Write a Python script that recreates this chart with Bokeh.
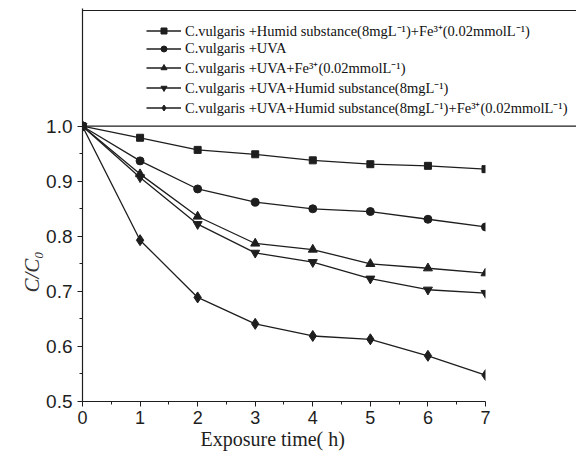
import math
from bokeh.plotting import figure
from bokeh.models import Range1d, FixedTicker, Span, Legend, LegendItem, NumeralTickFormatter, Title
from bokeh.embed import file_html
from bokeh.resources import INLINE

# ---- data ----
time_h = [0, 1, 2, 3, 4, 5, 6, 7]
humid_fe = [1.0, 0.979, 0.957, 0.949, 0.938, 0.931, 0.928, 0.922]
uva = [1.0, 0.937, 0.886, 0.862, 0.850, 0.845, 0.831, 0.817]
uva_fe = [1.0, 0.913, 0.836, 0.787, 0.776, 0.750, 0.742, 0.733]
uva_humid = [1.0, 0.907, 0.822, 0.770, 0.753, 0.723, 0.703, 0.697]
uva_humid_fe = [1.0, 0.793, 0.689, 0.641, 0.619, 0.613, 0.583, 0.548]

x_ticks = [0, 1, 2, 3, 4, 5, 6, 7]
y_ticks = [0.5, 0.6, 0.7, 0.8, 0.9, 1.0]

series_labels = [
    "C.vulgaris +Humid substance(8mgL\u207b\u00b9)+Fe\u00b3\u207a(0.02mmolL\u207b\u00b9)",
    "C.vulgaris +UVA",
    "C.vulgaris +UVA+Fe\u00b3\u207a(0.02mmolL\u207b\u00b9)",
    "C.vulgaris +UVA+Humid substance(8mgL\u207b\u00b9)",
    "C.vulgaris +UVA+Humid substance(8mgL\u207b\u00b9)+Fe\u00b3\u207a(0.02mmolL\u207b\u00b9)",
]
series_values = [humid_fe, uva, uva_fe, uva_humid, uva_humid_fe]
markers = ["square", "circle", "triangle", "inverted_triangle", "diamond"]
marker_sizes = [7, 8, 9, 9, 11]

# ---- layout ----
FRAME_W, FRAME_H = 494, 393
X_PX = 57.571   # px per hour
Y_PX = 550.6    # px per unit C/C0
X_END = FRAME_W / X_PX
Y_END = 0.5 + FRAME_H / Y_PX

p = figure(frame_width=FRAME_W, frame_height=FRAME_H,
           x_range=Range1d(0, X_END), y_range=Range1d(0.5, Y_END),
           output_backend="svg", toolbar_location=None,
           min_border_left=82, min_border_right=0, min_border_top=8, min_border_bottom=50)
p.outline_line_color = None
p.xgrid.visible = False
p.ygrid.visible = False
p.background_fill_color = "white"

LINE_COL = "#1e1e1e"
items = []
for lab, vals, mk, ms in zip(series_labels, series_values, markers, marker_sizes):
    r1 = p.line(time_h, vals, line_color=LINE_COL, line_width=1.3)
    r2 = p.scatter(time_h, vals, marker=mk, size=ms, fill_color=LINE_COL, line_color=LINE_COL)
    items.append(LegendItem(label=lab, renderers=[r1, r2]))

# frame clipping at last hour (half markers in the original)
p.quad(left=[time_h[-1]], right=[X_END], bottom=[0.5], top=[y_ticks[-1] - 0.002],
       fill_color="white", line_color=None)

# axes
for ax in (p.xaxis[0], p.yaxis[0]):
    ax.axis_line_color = "#1e1e1e"
    ax.axis_line_width = 1.2
    ax.major_tick_line_color = "#1e1e1e"
    ax.minor_tick_line_color = "#1e1e1e"
    ax.major_tick_in = 0
    ax.major_tick_out = 5
    ax.minor_tick_in = 0
    ax.minor_tick_out = 3
    ax.major_label_text_font = "Liberation Sans"
    ax.major_label_text_color = "#1e1e1e"

p.xaxis[0].ticker = FixedTicker(ticks=x_ticks, minor_ticks=[t + 0.5 for t in x_ticks[:-1]])
p.xaxis[0].bounds = (x_ticks[0], x_ticks[-1])
p.xaxis[0].major_label_text_font_size = "18px"
p.xaxis[0].major_label_standoff = 4
p.yaxis[0].ticker = FixedTicker(ticks=y_ticks, minor_ticks=[t + 0.05 for t in y_ticks[:-1]])
p.yaxis[0].formatter = NumeralTickFormatter(format="0.0")
p.yaxis[0].major_label_text_font_size = "19px"
p.yaxis[0].major_label_standoff = 5

# legend box lines
p.add_layout(Span(location=y_ticks[-1], dimension="width", line_color="#1e1e1e", line_width=1.2))
p.add_layout(Span(location=0.5 + (FRAME_H - 2) / Y_PX, dimension="width", line_color="#1e1e1e", line_width=1.2))

legend = Legend(items=items, location=(64, 284), border_line_color=None,
                background_fill_alpha=0, padding=0, margin=0, spacing=0,
                glyph_height=15, glyph_width=35, label_height=15, label_standoff=4,
                label_text_font="Liberation Serif", label_text_font_size="14.5px",
                label_text_color="#111111")
p.add_layout(legend)

# axis titles
p.add_layout(Title(text="C/C\u2080", align="left", offset=109, standoff=0,
                   text_font="Liberation Serif", text_font_style="italic", text_font_size="21px",
                   text_color="#333333"), "left")
p.add_layout(Title(text="Exposure time( h)", align="left", offset=118, standoff=-2,
                   text_font="Liberation Serif", text_font_style="normal", text_font_size="20px",
                   text_color="#1e1e1e"), "below")

open("out.html", "w").write(file_html(p, INLINE))
